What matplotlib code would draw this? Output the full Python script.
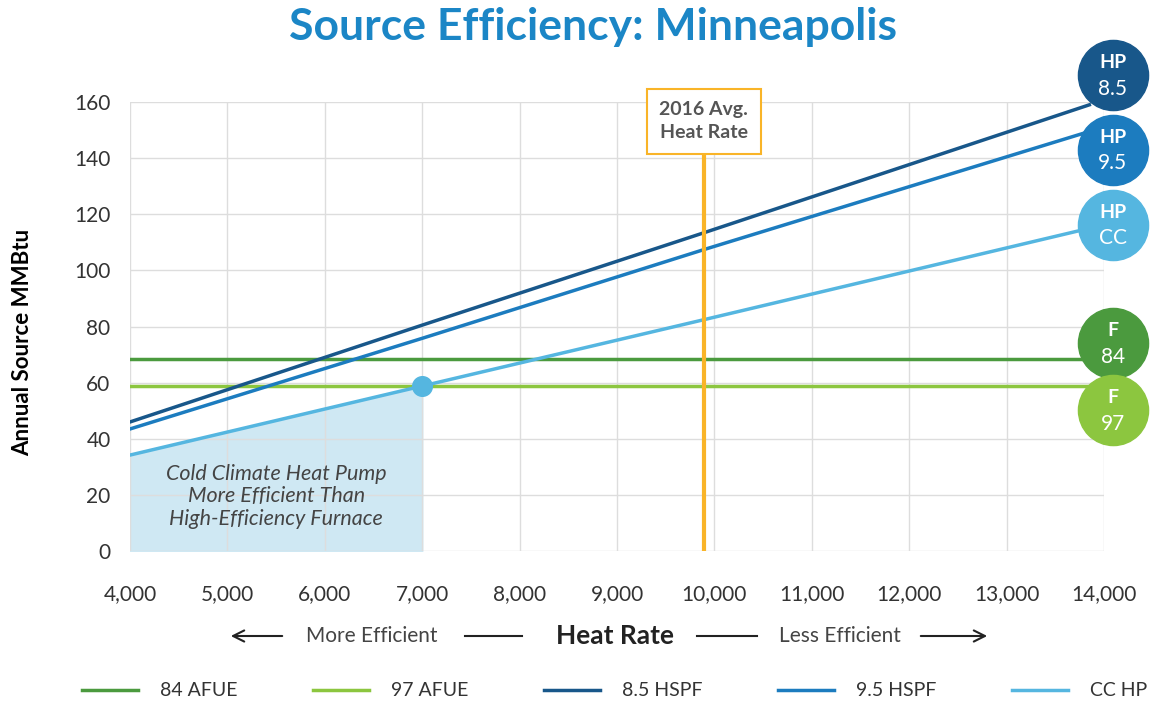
import matplotlib
matplotlib.use("Agg")
import matplotlib.pyplot as plt
import numpy as np

plt.rcParams['font.family'] = ['Lato', 'DejaVu Sans']

# datos
heat_rate = [4000, 7000, 9900, 13850]
hspf_85 = [46, 80.5, 113.5, 159]
hspf_95 = [43.5, 75.8, 107.5, 149.5]
cc_hp = [34.2, 58.8, 82.5, 115]
afue_84 = 68.4
afue_97 = 58.8
avg_heat_rate = 9890
cross_x = 7000

series_names = ['84 AFUE', '97 AFUE', '8.5 HSPF', '9.5 HSPF', 'CC HP']
colors = ['#4b9a3e', '#8cc63f', '#18578a', '#1c7cbf', '#55b6e0']
badges = [('HP', '8.5', 169.6, '#18578a'), ('HP', '9.5', 142.9, '#1c7cbf'),
          ('HP', 'CC', 116.2, '#55b6e0'), ('F', '84', 74.1, '#4b9a3e'),
          ('F', '97', 50.2, '#8cc63f')]

fig = plt.figure(figsize=(11.55, 7.06), dpi=100)
ax = fig.add_axes([0.1126, 0.2195, 0.8432, 0.636])

x_end = heat_rate[-1]
l1, = ax.plot([heat_rate[0], x_end], [afue_84, afue_84], color=colors[0], lw=2.5)
l2, = ax.plot([heat_rate[0], x_end], [afue_97, afue_97], color=colors[1], lw=2.5)
l3, = ax.plot(heat_rate, hspf_85, color=colors[2], lw=2.5)
l4, = ax.plot(heat_rate, hspf_95, color=colors[3], lw=2.5)
l5, = ax.plot(heat_rate, cc_hp, color=colors[4], lw=2.5)

# zona sombreada bajo la curva CC HP
xs = np.linspace(heat_rate[0], cross_x, 50)
ax.fill_between(xs, 0, np.interp(xs, heat_rate, cc_hp), color='#cfe8f3', zorder=0)
ax.scatter([cross_x], [np.interp(cross_x, heat_rate, cc_hp)], s=200, color=colors[4], zorder=5)
ax.text(5500, 19.5, 'Cold Climate Heat Pump\nMore Efficient Than\nHigh-Efficiency Furnace',
        ha='center', va='center', style='italic', fontsize=15.5, color='#444444', linespacing=1.15)

# linea vertical del heat rate promedio
ax.plot([avg_heat_rate, avg_heat_rate], [0, 140.4], color='#f9b428', lw=3, zorder=4)
ax.text(avg_heat_rate, 153.2, '2016 Avg.\nHeat Rate', ha='center', va='center', fontsize=14,
        fontweight='bold', color='#555555', linespacing=1.4, clip_on=False,
        bbox=dict(boxstyle='square,pad=0.65', fc='white', ec='#f9b428', lw=1.5))

# circulos a la derecha
for top, bottom, yv, c in badges:
    ax.scatter([14092], [yv], s=2550, color=c, clip_on=False, zorder=6)
    ax.text(14092, yv + 4.5, top, ha='center', va='center', color='white', fontsize=14,
            fontweight='bold', clip_on=False, zorder=7)
    ax.text(14092, yv - 4.8, bottom, ha='center', va='center', color='white', fontsize=15,
            clip_on=False, zorder=7)

ax.set_xlim(4000, 14000)
ax.set_ylim(0, 160)
ax.set_xticks(range(4000, 14001, 1000))
ax.set_xticklabels(['{:,}'.format(v) for v in range(4000, 14001, 1000)])
ax.set_yticks(range(0, 161, 20))
ax.tick_params(length=0, labelsize=15, colors='#333333')
ax.tick_params(axis='x', pad=24)
ax.tick_params(axis='y', pad=14)
ax.grid(True, color='#dddddd', lw=1)
ax.set_axisbelow(True)
for s in ax.spines.values():
    s.set_visible(False)
ax.set_ylabel('Annual Source MMBtu', fontsize=16, fontweight='bold')
ax.yaxis.set_label_coords(-0.1, 0.465)

fig.text(0.513, 0.962, 'Source Efficiency: Minneapolis', ha='center', va='center',
         fontsize=32, fontweight='bold', color='#1b86c6')

# fila de "Heat Rate" con flechas
yrow = 1 - 636 / 706
fig.text(372 / 1155, yrow, 'More Efficient', ha='center', va='center', fontsize=15, color='#444444')
fig.text(615 / 1155, yrow, 'Heat Rate', ha='center', va='center', fontsize=19,
         fontweight='bold', color='#222222')
fig.text(840 / 1155, yrow, 'Less Efficient', ha='center', va='center', fontsize=15, color='#444444')
fig.add_artist(plt.Line2D([465 / 1155, 522 / 1155], [yrow, yrow], color='#222222', lw=1.5))
fig.add_artist(plt.Line2D([697 / 1155, 757 / 1155], [yrow, yrow], color='#222222', lw=1.5))
ax.annotate('', xy=(228 / 1155, yrow), xytext=(285 / 1155, yrow), xycoords='figure fraction',
            arrowprops=dict(arrowstyle='->', color='#222222', lw=1.5, mutation_scale=20))
ax.annotate('', xy=(990 / 1155, yrow), xytext=(918 / 1155, yrow), xycoords='figure fraction',
            arrowprops=dict(arrowstyle='->', color='#222222', lw=1.5, mutation_scale=20))

fig.legend([l1, l2, l3, l4, l5], series_names, loc='center', ncol=5, frameon=False,
           bbox_to_anchor=(0.532, 1 - 691 / 706), fontsize=14, handlelength=2.9,
           handletextpad=1.1, columnspacing=3.9, labelcolor='#333333')

fig.savefig('out.png', dpi=100)
